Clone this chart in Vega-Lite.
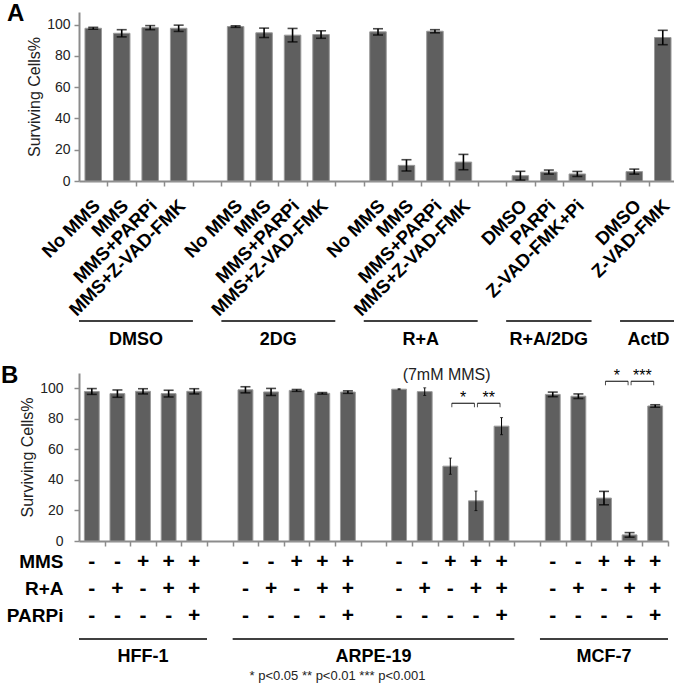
{
  "$schema": "https://vega.github.io/schema/vega-lite/v6.json",
  "padding": {"left": 1, "top": 1, "right": 0, "bottom": 0},
  "config": {
    "font": "Liberation Sans",
    "view": {"stroke": null},
    "axis": {"domainColor": "#8c8c8c", "tickColor": "#8c8c8c", "labelColor": "#222", "titleColor": "#222", "grid": false}
  },
  "datasets": {
    "a": [
      {"id": "DMSO|No MMS", "pct": 97.6, "err": 0.6},
      {"id": "DMSO|MMS", "pct": 94.4, "err": 2.3},
      {"id": "DMSO|MMS+PARPi", "pct": 98.0, "err": 1.3},
      {"id": "DMSO|MMS+Z-VAD-FMK", "pct": 97.6, "err": 2.0},
      {"id": "2DG|No MMS", "pct": 98.7, "err": 0.5},
      {"id": "2DG|MMS", "pct": 94.7, "err": 3.0},
      {"id": "2DG|MMS+PARPi", "pct": 93.2, "err": 4.3},
      {"id": "2DG|MMS+Z-VAD-FMK", "pct": 93.6, "err": 2.4},
      {"id": "R+A|No MMS", "pct": 95.3, "err": 2.0},
      {"id": "R+A|MMS", "pct": 10.0, "err": 3.6},
      {"id": "R+A|MMS+PARPi", "pct": 95.7, "err": 1.0},
      {"id": "R+A|MMS+Z-VAD-FMK", "pct": 12.1, "err": 4.9},
      {"id": "R+A/2DG|DMSO", "pct": 3.4, "err": 2.8},
      {"id": "R+A/2DG|PARPi", "pct": 5.7, "err": 1.3},
      {"id": "R+A/2DG|Z-VAD-FMK+Pi", "pct": 4.5, "err": 1.6},
      {"id": "ActD|DMSO", "pct": 6.0, "err": 1.6},
      {"id": "ActD|Z-VAD-FMK", "pct": 91.7, "err": 4.6}
    ],
    "agroups": [
      {"group": "DMSO", "first": "DMSO|No MMS", "last": "DMSO|MMS+Z-VAD-FMK", "mid": "DMSO|MMS", "n": 4},
      {"group": "2DG", "first": "2DG|No MMS", "last": "2DG|MMS+Z-VAD-FMK", "mid": "2DG|MMS", "n": 4},
      {"group": "R+A", "first": "R+A|No MMS", "last": "R+A|MMS+Z-VAD-FMK", "mid": "R+A|MMS", "n": 4},
      {"group": "R+A/2DG", "first": "R+A/2DG|DMSO", "last": "R+A/2DG|Z-VAD-FMK+Pi", "mid": "R+A/2DG|PARPi", "n": 3},
      {"group": "ActD", "first": "ActD|DMSO", "last": "ActD|Z-VAD-FMK", "mid": "ActD|DMSO", "n": 2}
    ],
    "b": [
      {"id": "HFF-1|1", "set": "HFF-1", "pct": 97.9, "err": 1.9, "MMS": "-", "R+A": "-", "PARPi": "-"},
      {"id": "HFF-1|2", "set": "HFF-1", "pct": 96.5, "err": 2.4, "MMS": "-", "R+A": "+", "PARPi": "-"},
      {"id": "HFF-1|3", "set": "HFF-1", "pct": 98.0, "err": 1.7, "MMS": "+", "R+A": "-", "PARPi": "-"},
      {"id": "HFF-1|4", "set": "HFF-1", "pct": 96.5, "err": 2.2, "MMS": "+", "R+A": "+", "PARPi": "-"},
      {"id": "HFF-1|5", "set": "HFF-1", "pct": 98.0, "err": 1.7, "MMS": "+", "R+A": "+", "PARPi": "+"},
      {"id": "ARPE-19a|1", "set": "ARPE-19a", "pct": 99.0, "err": 2.0, "MMS": "-", "R+A": "-", "PARPi": "-"},
      {"id": "ARPE-19a|2", "set": "ARPE-19a", "pct": 97.6, "err": 2.3, "MMS": "-", "R+A": "+", "PARPi": "-"},
      {"id": "ARPE-19a|3", "set": "ARPE-19a", "pct": 98.6, "err": 0.6, "MMS": "+", "R+A": "-", "PARPi": "-"},
      {"id": "ARPE-19a|4", "set": "ARPE-19a", "pct": 96.7, "err": 0.5, "MMS": "+", "R+A": "+", "PARPi": "-"},
      {"id": "ARPE-19a|5", "set": "ARPE-19a", "pct": 97.5, "err": 0.8, "MMS": "+", "R+A": "+", "PARPi": "+"},
      {"id": "ARPE-19b|1", "set": "ARPE-19b", "pct": 99.4, "err": 0.3, "MMS": "-", "R+A": "-", "PARPi": "-"},
      {"id": "ARPE-19b|2", "set": "ARPE-19b", "pct": 97.8, "err": 2.5, "MMS": "-", "R+A": "+", "PARPi": "-"},
      {"id": "ARPE-19b|3", "set": "ARPE-19b", "pct": 49.0, "err": 5.3, "MMS": "+", "R+A": "-", "PARPi": "-"},
      {"id": "ARPE-19b|4", "set": "ARPE-19b", "pct": 26.3, "err": 6.4, "MMS": "+", "R+A": "+", "PARPi": "-"},
      {"id": "ARPE-19b|5", "set": "ARPE-19b", "pct": 75.2, "err": 5.6, "MMS": "+", "R+A": "+", "PARPi": "+"},
      {"id": "MCF-7|1", "set": "MCF-7", "pct": 96.0, "err": 1.5, "MMS": "-", "R+A": "-", "PARPi": "-"},
      {"id": "MCF-7|2", "set": "MCF-7", "pct": 94.8, "err": 1.5, "MMS": "-", "R+A": "+", "PARPi": "-"},
      {"id": "MCF-7|3", "set": "MCF-7", "pct": 28.1, "err": 4.4, "MMS": "+", "R+A": "-", "PARPi": "-"},
      {"id": "MCF-7|4", "set": "MCF-7", "pct": 4.0, "err": 1.5, "MMS": "+", "R+A": "+", "PARPi": "-"},
      {"id": "MCF-7|5", "set": "MCF-7", "pct": 88.4, "err": 0.8, "MMS": "+", "R+A": "+", "PARPi": "+"}
    ],
    "bgroups": [
      {"group": "HFF-1", "first": "HFF-1|1", "last": "HFF-1|5", "mid": "HFF-1|3"},
      {"group": "ARPE-19", "first": "ARPE-19a|1", "last": "ARPE-19b|5", "mid": "gap2"},
      {"group": "MCF-7", "first": "MCF-7|1", "last": "MCF-7|5", "mid": "MCF-7|3"}
    ],
    "brackets": [
      {"from": "ARPE-19b|3", "to": "ARPE-19b|4", "level": 90.2, "label": "*"},
      {"from": "ARPE-19b|4", "to": "ARPE-19b|5", "level": 90.2, "label": "**"},
      {"from": "MCF-7|3", "to": "MCF-7|4", "level": 104.6, "label": "*"},
      {"from": "MCF-7|4", "to": "MCF-7|5", "level": 104.6, "label": "***"}
    ],
    "notes": [
      {"id": "ARPE-19b|3", "level": 105.5, "label": "(7mM MMS)"}
    ]
  },
  "concat": [
    {
      "spacing": 0,
      "vconcat": [
        {
          "width": 598,
          "height": 169,
          "data": {"name": "a"},
          "encoding": {
            "x": {
              "field": "id", "type": "nominal",
              "scale": {"domain": ["DMSO|No MMS", "DMSO|MMS", "DMSO|MMS+PARPi", "DMSO|MMS+Z-VAD-FMK", "gap1", "2DG|No MMS", "2DG|MMS", "2DG|MMS+PARPi", "2DG|MMS+Z-VAD-FMK", "gap2", "R+A|No MMS", "R+A|MMS", "R+A|MMS+PARPi", "R+A|MMS+Z-VAD-FMK", "gap3", "R+A/2DG|DMSO", "R+A/2DG|PARPi", "R+A/2DG|Z-VAD-FMK+Pi", "gap4", "ActD|DMSO", "ActD|Z-VAD-FMK"], "paddingInner": 0.42, "paddingOuter": 0.21},
              "axis": {"title": null, "bandPosition": 1, "tickOffset": 5.98, "labelOffset": -9.2, "labelAngle": -45, "labelFontSize": 18.5, "labelFontWeight": "bold", "labelLimit": 400, "labelPadding": 10, "labelColor": "#000", "labelExpr": "isString(datum.value) && indexof(datum.value, '|') >= 0 ? split(datum.value, '|')[1] : ''", "tickSize": 5, "tickWidth": 1.5, "domainWidth": 2}
            },
            "y": {
              "field": "pct", "type": "quantitative",
              "scale": {"domain": [0, 108]},
              "axis": {"title": "Surviving Cells%", "titleFontSize": 16, "titleFontWeight": "normal", "titlePadding": 4, "values": [0, 20, 40, 60, 80, 100], "labelFontSize": 14, "labelPadding": 4, "tickSize": 5, "tickWidth": 1.5, "domainWidth": 2}
            }
          },
          "layer": [
            {"mark": {"type": "bar", "color": "#5f5f5f", "stroke": "#9a9a9a", "strokeWidth": 1}},
            {"mark": {"type": "errorbar", "ticks": true, "size": 10, "thickness": 1.6, "color": "#000"}, "encoding": {"yError": {"field": "err"}}},
            {"transform": [{"filter": "datum.id == 'DMSO|No MMS'"}], "mark": {"type": "text", "text": "A", "fontSize": 24, "fontWeight": "bold", "align": "left", "baseline": "alphabetic", "dx": -86.2, "dy": -7.3, "color": "#000"}}
          ]
        },
        {
          "width": 598,
          "height": 4,
          "data": {"name": "agroups"},
          "layer": [
            {
              "mark": {"type": "rule", "color": "#000", "strokeWidth": 1.5},
              "encoding": {
                "x": {"field": "first", "type": "nominal", "bandPosition": -0.362, "scale": {"domain": ["DMSO|No MMS", "DMSO|MMS", "DMSO|MMS+PARPi", "DMSO|MMS+Z-VAD-FMK", "gap1", "2DG|No MMS", "2DG|MMS", "2DG|MMS+PARPi", "2DG|MMS+Z-VAD-FMK", "gap2", "R+A|No MMS", "R+A|MMS", "R+A|MMS+PARPi", "R+A|MMS+Z-VAD-FMK", "gap3", "R+A/2DG|DMSO", "R+A/2DG|PARPi", "R+A/2DG|Z-VAD-FMK+Pi", "gap4", "ActD|DMSO", "ActD|Z-VAD-FMK"], "paddingInner": 0.42, "paddingOuter": 0.21}, "axis": null},
                "x2": {"field": "last", "bandPosition": 1.362}
              }
            },
            {
              "transform": [{"filter": "datum.n % 2 == 0"}],
              "mark": {"type": "text", "fontSize": 18, "fontWeight": "bold", "font": "Liberation Sans Narrow, Liberation Sans, sans-serif", "baseline": "middle", "dy": 19, "color": "#000"},
              "encoding": {
                "x": {"field": "mid", "type": "nominal", "bandPosition": 1.362, "scale": {"domain": ["DMSO|No MMS", "DMSO|MMS", "DMSO|MMS+PARPi", "DMSO|MMS+Z-VAD-FMK", "gap1", "2DG|No MMS", "2DG|MMS", "2DG|MMS+PARPi", "2DG|MMS+Z-VAD-FMK", "gap2", "R+A|No MMS", "R+A|MMS", "R+A|MMS+PARPi", "R+A|MMS+Z-VAD-FMK", "gap3", "R+A/2DG|DMSO", "R+A/2DG|PARPi", "R+A/2DG|Z-VAD-FMK+Pi", "gap4", "ActD|DMSO", "ActD|Z-VAD-FMK"], "paddingInner": 0.42, "paddingOuter": 0.21}, "axis": null},
                "text": {"field": "group"}
              }
            },
            {
              "transform": [{"filter": "datum.n % 2 == 1"}],
              "mark": {"type": "text", "fontSize": 18, "fontWeight": "bold", "font": "Liberation Sans Narrow, Liberation Sans, sans-serif", "baseline": "middle", "dy": 19, "color": "#000"},
              "encoding": {
                "x": {"field": "mid", "type": "nominal", "bandPosition": 0.5, "scale": {"domain": ["DMSO|No MMS", "DMSO|MMS", "DMSO|MMS+PARPi", "DMSO|MMS+Z-VAD-FMK", "gap1", "2DG|No MMS", "2DG|MMS", "2DG|MMS+PARPi", "2DG|MMS+Z-VAD-FMK", "gap2", "R+A|No MMS", "R+A|MMS", "R+A|MMS+PARPi", "R+A|MMS+Z-VAD-FMK", "gap3", "R+A/2DG|DMSO", "R+A/2DG|PARPi", "R+A/2DG|Z-VAD-FMK+Pi", "gap4", "ActD|DMSO", "ActD|Z-VAD-FMK"], "paddingInner": 0.42, "paddingOuter": 0.21}, "axis": null},
                "text": {"field": "group"}
              }
            }
          ]
        }
      ]
    },
    {
      "spacing": 0,
      "vconcat": [
        {
          "width": 589,
          "height": 168,
          "data": {"name": "b"},
          "encoding": {
            "x": {
              "field": "id", "type": "nominal",
              "scale": {"domain": ["HFF-1|1", "HFF-1|2", "HFF-1|3", "HFF-1|4", "HFF-1|5", "gap1", "ARPE-19a|1", "ARPE-19a|2", "ARPE-19a|3", "ARPE-19a|4", "ARPE-19a|5", "gap2", "ARPE-19b|1", "ARPE-19b|2", "ARPE-19b|3", "ARPE-19b|4", "ARPE-19b|5", "gap3", "MCF-7|1", "MCF-7|2", "MCF-7|3", "MCF-7|4", "MCF-7|5"], "paddingInner": 0.42, "paddingOuter": 0.21},
              "axis": {"title": null, "labels": false, "bandPosition": 1, "tickOffset": 5.38, "tickSize": 5, "tickWidth": 1.5, "domainWidth": 2}
            },
            "y": {
              "field": "pct", "type": "quantitative",
              "scale": {"domain": [0, 110]},
              "axis": {"title": "Surviving Cells%", "titleFontSize": 16, "titleFontWeight": "normal", "titlePadding": 4, "values": [0, 20, 40, 60, 80, 100], "labelFontSize": 14, "labelPadding": 11, "tickSize": 5, "tickWidth": 1.5, "domainWidth": 2}
            }
          },
          "layer": [
            {"mark": {"type": "bar", "color": "#5f5f5f", "stroke": "#9a9a9a", "strokeWidth": 1}},
            {"transform": [{"filter": "datum.set != 'ARPE-19b'"}], "mark": {"type": "errorbar", "ticks": true, "size": 10, "thickness": 1.6, "color": "#000"}, "encoding": {"yError": {"field": "err"}}},
            {"transform": [{"filter": "datum.set == 'ARPE-19b'"}], "mark": {"type": "errorbar", "ticks": true, "size": 3, "thickness": 1, "color": "#000"}, "encoding": {"yError": {"field": "err"}}},
            {"data": {"name": "brackets"}, "mark": {"type": "rule", "color": "#000", "strokeWidth": 1, "xOffset": 1.5, "x2Offset": -1.5}, "encoding": {"x": {"field": "from", "type": "nominal"}, "x2": {"field": "to"}, "y": {"field": "level", "type": "quantitative"}}},
            {"data": {"name": "brackets"}, "mark": {"type": "tick", "orient": "vertical", "size": 4, "thickness": 1, "color": "#000", "xOffset": 1.5, "yOffset": 2}, "encoding": {"x": {"field": "from", "type": "nominal"}, "y": {"field": "level", "type": "quantitative"}}},
            {"data": {"name": "brackets"}, "mark": {"type": "tick", "orient": "vertical", "size": 4, "thickness": 1, "color": "#000", "xOffset": -1.5, "yOffset": 2}, "encoding": {"x": {"field": "to", "type": "nominal"}, "y": {"field": "level", "type": "quantitative"}}},
            {"data": {"name": "brackets"}, "mark": {"type": "text", "fontSize": 16, "baseline": "alphabetic", "color": "#000"}, "encoding": {"x": {"field": "from", "type": "nominal", "bandPosition": 1.362}, "y": {"field": "level", "type": "quantitative"}, "text": {"field": "label"}}},
            {"data": {"name": "notes"}, "mark": {"type": "text", "fontSize": 16, "baseline": "alphabetic", "color": "#222"}, "encoding": {"x": {"field": "id", "type": "nominal", "bandPosition": 0.25}, "y": {"field": "level", "type": "quantitative"}, "text": {"field": "label"}}},
            {"transform": [{"filter": "datum.id == 'HFF-1|1'"}], "mark": {"type": "text", "text": "B", "fontSize": 24, "fontWeight": "bold", "align": "left", "baseline": "alphabetic", "dx": -90.8, "dy": -8.5, "color": "#000"}}
          ]
        },
        {
          "width": 589,
          "height": 81,
          "data": {"name": "b"},
          "transform": [{"fold": ["MMS", "R+A", "PARPi"], "as": ["factor", "sign"]}],
          "mark": {"type": "text", "fontSize": 21, "fontWeight": "bold", "baseline": "middle", "color": "#000"},
          "encoding": {
            "x": {"field": "id", "type": "nominal", "scale": {"domain": ["HFF-1|1", "HFF-1|2", "HFF-1|3", "HFF-1|4", "HFF-1|5", "gap1", "ARPE-19a|1", "ARPE-19a|2", "ARPE-19a|3", "ARPE-19a|4", "ARPE-19a|5", "gap2", "ARPE-19b|1", "ARPE-19b|2", "ARPE-19b|3", "ARPE-19b|4", "ARPE-19b|5", "gap3", "MCF-7|1", "MCF-7|2", "MCF-7|3", "MCF-7|4", "MCF-7|5"], "paddingInner": 0.42, "paddingOuter": 0.21}, "axis": null},
            "y": {"field": "factor", "type": "nominal", "scale": {"domain": ["MMS", "R+A", "PARPi"]}, "axis": {"title": null, "domain": false, "ticks": false, "labelFontSize": 19, "labelFontWeight": "bold", "labelPadding": 16, "labelColor": "#000"}},
            "text": {"field": "sign"}
          }
        },
        {
          "width": 589,
          "height": 20,
          "title": {"text": "* p<0.05 ** p<0.01 *** p<0.001", "orient": "bottom", "anchor": "middle", "frame": "group", "dx": -36, "offset": 4, "fontSize": 13, "fontWeight": "normal", "font": "Liberation Sans Narrow, Liberation Sans, sans-serif", "color": "#222"},
          "data": {"name": "bgroups"},
          "layer": [
            {
              "mark": {"type": "rule", "color": "#000", "strokeWidth": 1.5},
              "encoding": {
                "x": {"field": "first", "type": "nominal", "bandPosition": -0.362, "scale": {"domain": ["HFF-1|1", "HFF-1|2", "HFF-1|3", "HFF-1|4", "HFF-1|5", "gap1", "ARPE-19a|1", "ARPE-19a|2", "ARPE-19a|3", "ARPE-19a|4", "ARPE-19a|5", "gap2", "ARPE-19b|1", "ARPE-19b|2", "ARPE-19b|3", "ARPE-19b|4", "ARPE-19b|5", "gap3", "MCF-7|1", "MCF-7|2", "MCF-7|3", "MCF-7|4", "MCF-7|5"], "paddingInner": 0.42, "paddingOuter": 0.21}, "axis": null},
                "x2": {"field": "last", "bandPosition": 1.362}
              }
            },
            {
              "mark": {"type": "text", "fontSize": 18, "fontWeight": "bold", "font": "Liberation Sans Narrow, Liberation Sans, sans-serif", "baseline": "middle", "dy": 18, "color": "#000"},
              "encoding": {
                "x": {"field": "mid", "type": "nominal", "bandPosition": 0.5, "scale": {"domain": ["HFF-1|1", "HFF-1|2", "HFF-1|3", "HFF-1|4", "HFF-1|5", "gap1", "ARPE-19a|1", "ARPE-19a|2", "ARPE-19a|3", "ARPE-19a|4", "ARPE-19a|5", "gap2", "ARPE-19b|1", "ARPE-19b|2", "ARPE-19b|3", "ARPE-19b|4", "ARPE-19b|5", "gap3", "MCF-7|1", "MCF-7|2", "MCF-7|3", "MCF-7|4", "MCF-7|5"], "paddingInner": 0.42, "paddingOuter": 0.21}, "axis": null},
                "text": {"field": "group"}
              }
            }
          ]
        }
      ]
    }
  ],
  "columns": 1,
  "align": "none",
  "spacing": 14
}
